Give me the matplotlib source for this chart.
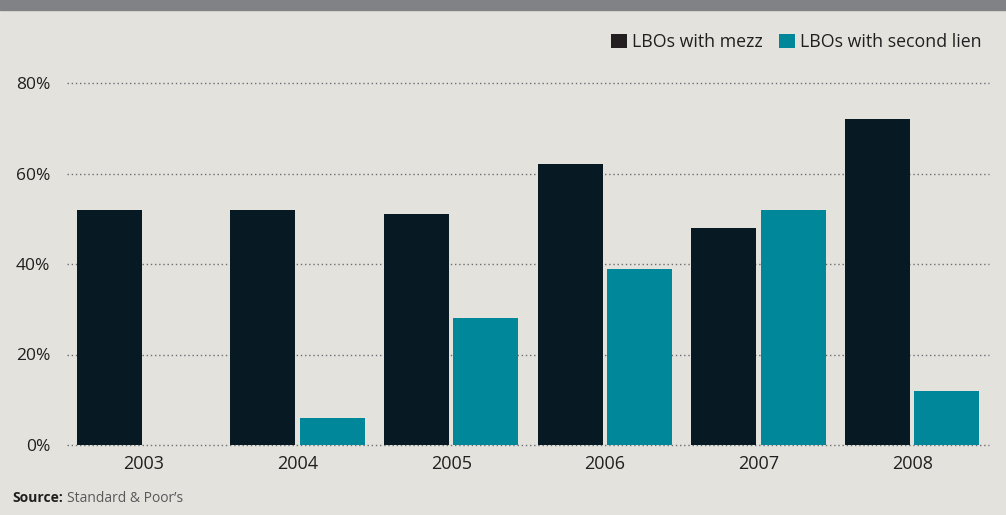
import matplotlib
matplotlib.use("Agg")
import matplotlib.pyplot as plt
import matplotlib.ticker as mticker
from matplotlib.patches import Patch, Rectangle
import numpy as np

# ── Data ──
years = ["2003", "2004", "2005", "2006", "2007", "2008"]
mezz = [52, 52, 51, 62, 48, 72]
second_lien = [0, 6, 28, 39, 52, 12]
y_ticks = [0, 20, 40, 60, 80]

# ── Colors ──
BG = "#e3e2dd"
BAND = "#808285"
NAVY = "#071923"
TEAL = "#00879a"
LEGEND_DARK = "#231f20"
FG = "#231f20"
GRID = "#6d6e71"

plt.rcParams["font.family"] = ["Open Sans", "DejaVu Sans"]

fig = plt.figure(figsize=(10.06, 5.15), dpi=100)
fig.set_facecolor(BG)

# grey band across the top
fig.patches.append(Rectangle((0, 1 - 10 / 515), 1, 10 / 515,
                             transform=fig.transFigure, color=BAND, zorder=0))

ax = fig.add_axes([67 / 1006, 70 / 515, 922 / 1006, 362 / 515])
ax.set_facecolor(BG)
for s in ax.spines.values():
    s.set_visible(False)

x = np.arange(len(years))
w = 0.423
gap = 0.014
ax.bar(x - w / 2 - gap, mezz, width=w, color=NAVY, zorder=3)
ax.bar(x + w / 2 + gap, second_lien, width=w, color=TEAL, zorder=3)

ax.set_xlim(-0.5, len(years) - 0.5)
ax.set_ylim(0, 80)
ax.set_yticks(y_ticks)
ax.yaxis.set_major_formatter(mticker.FuncFormatter(lambda v, p: f"{v:.0f}%"))
ax.set_xticks(x)
ax.set_xticklabels(years)
ax.tick_params(axis="y", length=0, pad=12, labelsize=12.5, colors=FG)
ax.tick_params(axis="x", length=0, pad=7, labelsize=13, colors=FG)
ax.grid(axis="y", linestyle=(0, (1, 2)), color=GRID, linewidth=1.0, zorder=1)
for gl in ax.get_ygridlines():
    gl.set_clip_on(False)

handles = [Patch(facecolor=LEGEND_DARK, label="LBOs with mezz"),
           Patch(facecolor=TEAL, label="LBOs with second lien")]
fig.legend(handles=handles, loc="upper right", bbox_to_anchor=(989 / 1006, 1 - 26 / 515),
           ncol=2, frameon=False, fontsize=12.8, handlelength=0.9, handleheight=0.9,
           handletextpad=0.3, columnspacing=0.9, borderaxespad=0, labelcolor=FG)

fig.text(12 / 1006, 1 - 502 / 515, "Source:", fontsize=10, fontweight="bold", color=FG)
fig.text(67 / 1006, 1 - 502 / 515, "Standard & Poor\u2019s", fontsize=10, color="#58595b")

fig.savefig("out.png", dpi=100, facecolor=BG)
